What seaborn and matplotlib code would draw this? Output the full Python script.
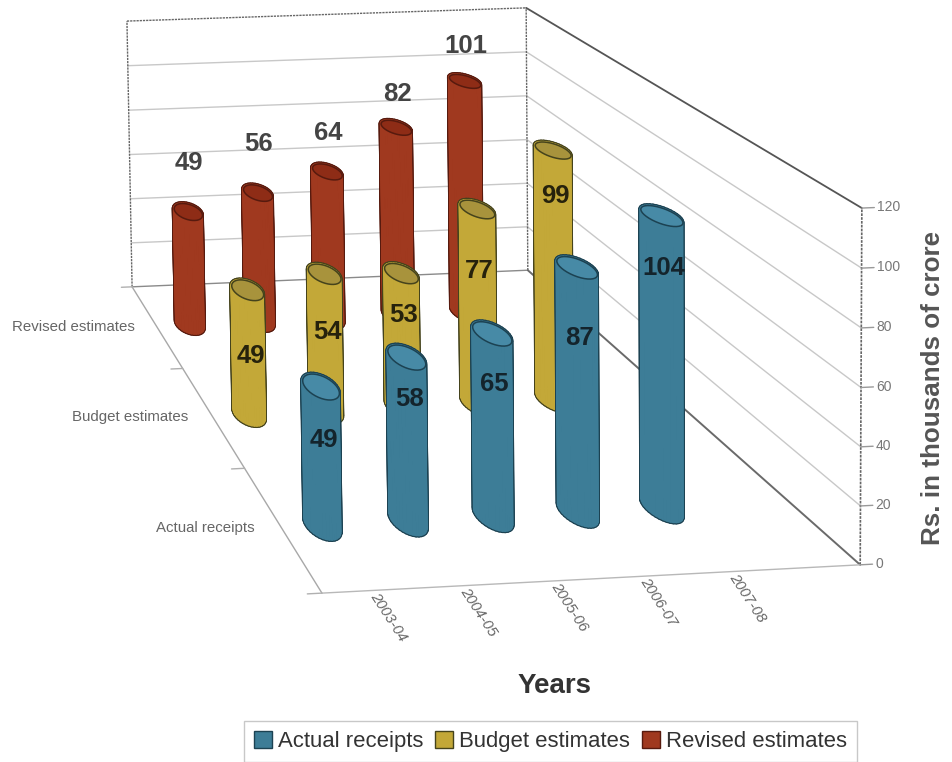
import numpy as np
import matplotlib
matplotlib.use("Agg")
import matplotlib.pyplot as plt
from matplotlib.patches import Patch
from mpl_toolkits.mplot3d.art3d import Poly3DCollection
import seaborn as sns

W, H = 952, 762

years = ["2003-04", "2004-05", "2005-06", "2006-07", "2007-08"]
series_names = ["Actual receipts", "Budget estimates", "Revised estimates"]
actual_receipts = [49, 58, 65, 87, 104]
budget_estimates = [49, 54, 53, 77, 99]
revised_estimates = [49, 56, 64, 82, 101]
z_ticks = [0, 20, 40, 60, 80, 100, 120]

body_colors = ["#3d7d97", "#c3a838", "#a0391f"]
top_colors = ["#478aa6", "#a8933c", "#8e2c16"]
edge_colors = ["#1c4252", "#45431c", "#571a0e"]
label_colors = ["#14242c", "#26220c", "#444444"]

# Height of each value label relative to the top of its cylinder
actual_label_shift = [-19, -15, -18, -25, -18.5]
budget_label_shift = [-26, -23, -16.5, -24.5, -18]
revised_label_shift = [21, 21, 16.5, 14.5, 15]

sns.set_theme(style="white", rc={"axes.grid": False})
plt.rcParams["font.family"] = ["Liberation Sans", "DejaVu Sans"]
palette = sns.color_palette(body_colors)

# Extent of the box the chart sits in: years, series, value
X0, X1 = 0.0, 6.0
Y0, Y1 = -0.5, 2.5
Z0, Z1 = 0.0, 120.0
BAR_SHIFT = 0.48
RX, RY = 0.18, 0.12

# Where the visible box corners land on the canvas; the camera is solved from these
box_xyz = [(X0, Y0, Z0), (X1, Y0, Z0), (X1, Y0, Z1), (X0, Y1, Z0),
           (X1, Y1, Z0), (X0, Y1, Z1), (X1, Y1, Z1)]
box_px = [(322, 593), (860, 565), (862, 208), (132, 287),
          (528, 270), (127, 21), (526, 8)]


def solve_camera(xyz, px):
    rows = []
    for (x, y, z), (u, v) in zip(xyz, px):
        a, b = u / W, (H - v) / H
        p = [x, y, z / 20.0, 1.0]
        rows.append(p + [0, 0, 0, 0] + [-a * c for c in p])
        rows.append([0, 0, 0, 0] + p + [-b * c for c in p])
    sol = np.linalg.svd(np.array(rows))[2][-1].reshape(3, 4)
    sol[:, 2] /= 20.0
    sol[0] *= W
    sol[1] *= H
    return sol


CAM = solve_camera(box_xyz, box_px)


def to_canvas(x, y, z):
    q = CAM @ np.array([x, y, z, 1.0])
    return q[0] / q[2], q[1] / q[2]


fig = plt.figure(figsize=(W / 100, H / 100), dpi=100, facecolor="white")
ax = fig.add_axes([0, -(W - H) / 2 / H, 1, W / H], projection="3d",
                  computed_zorder=False)
ax.set_proj_type("ortho")
ax.set_axis_off()


def camera_matrix():
    # Express the solved camera in the 2D data space of the 3D axes
    A = ax.transData.inverted().get_affine().get_matrix()
    r0 = A[0, 0] * CAM[0] + A[0, 1] * CAM[1] + A[0, 2] * CAM[2]
    r1 = A[1, 0] * CAM[0] + A[1, 1] * CAM[1] + A[1, 2] * CAM[2]
    return np.vstack([r0, r1, [0.0, 1.0, 0.0, 0.0], CAM[2]])


ax.get_proj = camera_matrix


def line(xs, ys, zs, color, lw=1.0, ls="-", zorder=1):
    ax.plot(xs, ys, zs, color=color, lw=lw, ls=ls, zorder=zorder)


# Gridlines on the back and right walls
for z in z_ticks[1:]:
    if z < Z1:
        line([X0, X1], [Y1, Y1], [z, z], "#c8c8c8")
    line([X1, X1], [Y1, Y0], [z, z], "#555555" if z == Z1 else "#c8c8c8",
         lw=1.3 if z == Z1 else 1.0)

# Box edges
dotted = (0, (1.6, 0.7))
line([X0, X1], [Y1, Y1], [Z1, Z1], "#666666", ls=dotted)
line([X0, X0], [Y1, Y1], [Z0, Z1], "#666666", ls=dotted)
line([X1, X1], [Y1, Y1], [Z0, Z1], "#666666", ls=dotted)
line([X1, X1], [Y0, Y0], [Z0, Z1], "#666666", ls=dotted, lw=1.2)
line([X0, X1], [Y1, Y1], [Z0, Z0], "#8a8a8a")
line([X1, X1], [Y1, Y0], [Z0, Z0], "#6a6a6a", lw=1.4)
line([X0, X0], [Y1, Y0], [Z0, Z0], "#a8a8a8")
line([X0, X1], [Y0, Y0], [Z0, Z0], "#b8b8b8")

# Axis ticks
for y in [-0.5, 0.5, 1.5, 2.5]:
    line([X0 - 0.16, X0], [y, y], [0, 0], "#b0b0b0")
for z in z_ticks:
    line([X1, X1 + 0.14], [Y0, Y0], [z, z], "#999999")


def cylinder(x, y, height, idx, zorder):
    t = np.linspace(0, 2 * np.pi, 37)
    cx = x + RX * np.cos(t)
    cy = y + RY * np.sin(t)
    quads = [[(cx[i], cy[i], 0), (cx[i + 1], cy[i + 1], 0),
              (cx[i + 1], cy[i + 1], height), (cx[i], cy[i], height)]
             for i in range(len(t) - 1)]
    outline = Poly3DCollection(quads, facecolors=edge_colors[idx],
                               edgecolors=edge_colors[idx], linewidths=2.8,
                               zorder=zorder)
    fill = Poly3DCollection(quads, facecolors=palette[idx],
                            edgecolors=palette[idx], linewidths=1.0,
                            zorder=zorder + 0.1)
    cap = Poly3DCollection([list(zip(cx, cy, np.full_like(cx, height)))],
                           facecolors=top_colors[idx],
                           edgecolors=edge_colors[idx], linewidths=1.1,
                           zorder=zorder + 0.2)
    for coll in (outline, fill, cap):
        ax.add_collection3d(coll)


series_values = [actual_receipts, budget_estimates, revised_estimates]
label_shifts = [actual_label_shift, budget_label_shift, revised_label_shift]

# Back row first so nearer cylinders cover the ones behind them
for j in [2, 1, 0]:
    for i, value in enumerate(series_values[j]):
        cylinder(i + BAR_SHIFT, j, value, j, zorder=10 + (2 - j) * 10 + i)


def label(x, y, z, s, **kw):
    u, v = to_canvas(x, y, z)
    fig.text(u / W, v / H, s, **kw)


# Value labels
for j, values in enumerate(series_values):
    for i, value in enumerate(values):
        label(i + BAR_SHIFT + 0.03, j, value + label_shifts[j][i], str(value),
              ha="center", va="center", fontsize=18.5, fontweight="bold",
              color=label_colors[j])

# Tick labels
for j, name in enumerate(series_names):
    label(X0 - 0.31, j, 0, name, ha="right", va="center",
          fontsize=10.8, color="#666666")
for i, yr in enumerate(years):
    label(i + BAR_SHIFT + 0.08, Y0, -1, yr, ha="left", va="center",
          rotation=-57, rotation_mode="anchor", fontsize=10.8,
          style="italic", color="#666666")
for z in z_ticks:
    label(X1 + 0.17, Y0, z, str(z), ha="left", va="center",
          fontsize=10, color="#777777")

fig.text(933 / W, 1 - 388 / H, "Rs. in thousands of crore", rotation=90,
         ha="center", va="center", fontsize=18.7, fontweight="bold",
         color="#555555")
fig.text(555 / W, 1 - 686 / H, "Years", ha="center", va="center",
         fontsize=20, fontweight="bold", color="#333333")

handles = [Patch(facecolor=palette[k], edgecolor=edge_colors[k], label=series_names[k])
           for k in range(3)]
fig.legend(handles=handles, ncol=3, loc="lower left",
           bbox_to_anchor=(244 / W, 0.0), bbox_transform=fig.transFigure,
           fontsize=15.9, frameon=True, fancybox=False, framealpha=1,
           edgecolor="#c8c8c8", borderaxespad=0, handlelength=0.8,
           handleheight=0.85, handletextpad=0.28, columnspacing=0.55,
           labelcolor="#333333", borderpad=0.45)

fig.savefig("out.png", dpi=100)
